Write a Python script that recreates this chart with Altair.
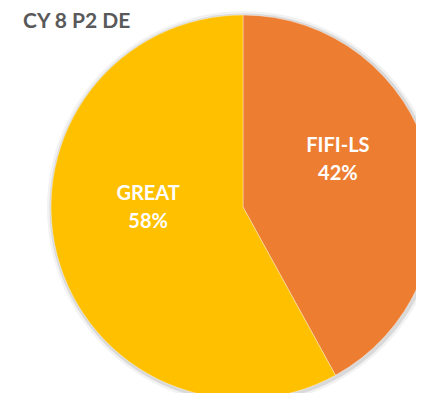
import altair as alt
import pandas as pd

categories = ["FIFI-LS", "GREAT"]
shares = [42, 58]
colors = ["#ED7D31", "#FFC000"]
title_text = "CY 8 P2 DE"

df = pd.DataFrame({"name": categories, "pct": shares, "order": [0, 1]})

W, H = 408, 385
CX, CY, R = 235, 199, 192

base = alt.Chart(df).encode(
    theta=alt.Theta("pct:Q", stack=True),
    order=alt.Order("order:Q"),
    x=alt.value(CX),
    y=alt.value(CY),
)

shadow1 = alt.Chart(pd.DataFrame({"a": [1]})).mark_arc(
    theta=0, theta2=6.2832, outerRadius=R + 5, color="#000000", opacity=0.05
).encode(x=alt.value(CX + 1), y=alt.value(CY + 1))
shadow2 = alt.Chart(pd.DataFrame({"a": [1]})).mark_arc(
    theta=0, theta2=6.2832, outerRadius=R + 2.5, color="#000000", opacity=0.1
).encode(x=alt.value(CX + 1), y=alt.value(CY + 1))

pie = base.mark_arc(outerRadius=R, stroke="#ffffff", strokeWidth=0.6, strokeOpacity=0.6).encode(
    color=alt.Color("name:N", scale=alt.Scale(domain=categories, range=colors), legend=None)
)

labels = base.transform_calculate(
    label="datum.name + '\\n' + datum.pct + '%'"
).mark_text(
    radius=98, dy=-37, font="Lato", fontSize=20, fontWeight="bold", color="#ffffff",
    lineBreak="\n", lineHeight=28, align="center", baseline="middle"
).encode(text="label:N")

title = alt.Chart(pd.DataFrame({"t": [title_text]})).mark_text(
    font="Lato", fontSize=21, fontWeight="bold", color="#595959", align="left", baseline="alphabetic"
).encode(text="t:N", x=alt.value(15), y=alt.value(20))

chart = alt.layer(shadow1, shadow2, pie, labels, title).properties(
    width=W, height=H, padding=0, autosize=alt.AutoSizeParams(type="none")
).configure_view(stroke=None)

chart.save("out.html", embed_options={"renderer": "svg", "actions": False})
